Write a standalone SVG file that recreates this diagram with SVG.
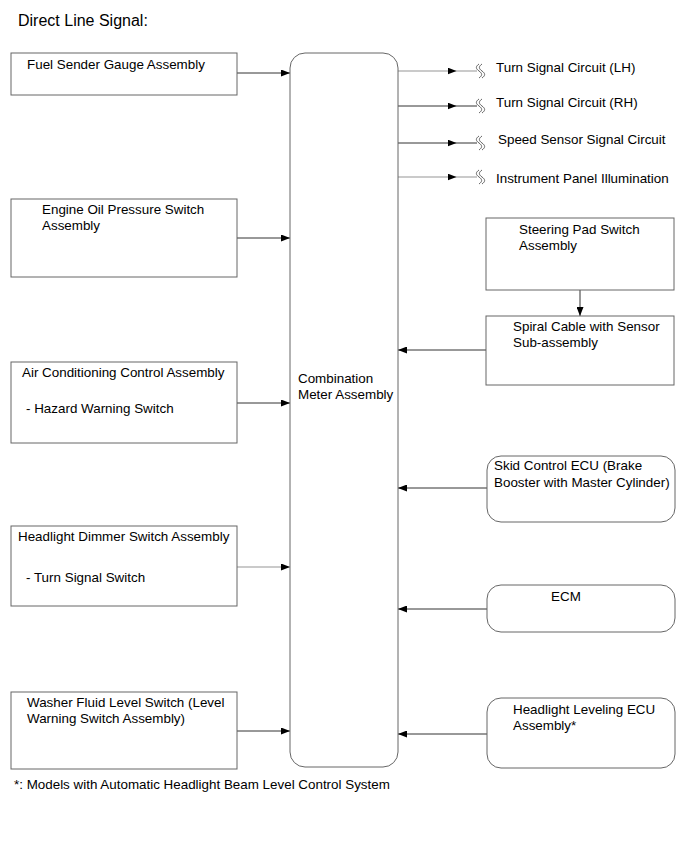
<svg xmlns="http://www.w3.org/2000/svg" width="690" height="853" viewBox="0 0 690 853">
<style>
  .box { fill: #ffffff; stroke: #666666; stroke-width: 1; }
  .t { font-family: "Liberation Sans", Arial, sans-serif; font-size: 13.4px; fill: #000000; }
  .title { font-family: "Liberation Sans", Arial, sans-serif; font-size: 16px; fill: #000000; }
  .ln { stroke: #333333; stroke-width: 1; fill: none; }
  .lg { stroke: #b8b8b8; stroke-width: 1.5; fill: none; }
  .brk { stroke: #555555; stroke-width: 0.9; fill: none; }
</style>
<defs>
  <marker id="ah" markerUnits="userSpaceOnUse" markerWidth="9" markerHeight="7" refX="9" refY="3.5" orient="auto">
    <path d="M0,0 L9,3.5 L0,7 z" fill="#000000"/>
  </marker>
  <marker id="am" markerUnits="userSpaceOnUse" markerWidth="9" markerHeight="7" refX="4.5" refY="3.5" orient="auto">
    <path d="M0,0 L9,3.5 L0,7 z" fill="#000000"/>
  </marker>
  <g id="brk">
    <path d="M2,-7 c-3.5,2.5 -3.5,4.5 0,7 c3.5,2.5 3.5,4.5 0,7"/>
    <path d="M5,-7 c-3.5,2.5 -3.5,4.5 0,7 c3.5,2.5 3.5,4.5 0,7"/>
  </g>
</defs>
<rect width="690" height="853" fill="#ffffff"/>
<text class="title" x="18" y="26">Direct Line Signal:</text>

<g id="connectors">
  <path class="ln" d="M237,73 H290" marker-end="url(#ah)"/>
  <path class="ln" d="M237,238 H290" marker-end="url(#ah)"/>
  <path class="ln" d="M237,403 H290" marker-end="url(#ah)"/>
  <path class="lg" d="M237,567 H290" marker-end="url(#ah)"/>
  <path class="ln" d="M237,731 H290" marker-end="url(#ah)"/>

  <path class="lg" d="M398,71 H452 H477" marker-mid="url(#am)"/>
  <path class="ln" d="M398,106 H452 H477" marker-mid="url(#am)"/>
  <path class="ln" d="M398,143 H452 H477" marker-mid="url(#am)"/>
  <path class="lg" d="M398,177 H452 H477" marker-mid="url(#am)"/>
  <use href="#brk" class="brk" x="477" y="71"/>
  <use href="#brk" class="brk" x="477" y="106"/>
  <use href="#brk" class="brk" x="477" y="143"/>
  <use href="#brk" class="brk" x="477" y="177"/>

  <path class="ln" d="M580,290 V316" marker-end="url(#ah)"/>
  <path class="ln" d="M486,350 H398" marker-end="url(#ah)"/>
  <path class="ln" d="M487,488 H398" marker-end="url(#ah)"/>
  <path class="ln" d="M487,609 H398" marker-end="url(#ah)"/>
  <path class="ln" d="M487,734 H398" marker-end="url(#ah)"/>
</g>

<g id="combination-meter">
  <rect class="box" x="290" y="53" width="108" height="714" rx="15" ry="15"/>
  <text class="t" x="298" y="383">Combination</text>
  <text class="t" x="298" y="399">Meter Assembly</text>
</g>

<g id="fuel-sender">
  <rect class="box" x="11" y="53" width="226" height="42"/>
  <text class="t" x="27" y="69">Fuel Sender Gauge Assembly</text>
</g>

<g id="engine-oil">
  <rect class="box" x="11" y="199" width="226" height="78"/>
  <text class="t" x="42" y="214">Engine Oil Pressure Switch</text>
  <text class="t" x="42" y="230">Assembly</text>
</g>

<g id="air-conditioning">
  <rect class="box" x="11" y="362" width="226" height="81"/>
  <text class="t" x="22" y="377">Air Conditioning Control Assembly</text>
  <text class="t" x="26" y="413">- Hazard Warning Switch</text>
</g>

<g id="headlight-dimmer">
  <rect class="box" x="11" y="526" width="226" height="80"/>
  <text class="t" x="18" y="541">Headlight Dimmer Switch Assembly</text>
  <text class="t" x="26" y="582">- Turn Signal Switch</text>
</g>

<g id="washer-fluid">
  <rect class="box" x="11" y="692" width="226" height="77"/>
  <text class="t" x="27" y="707">Washer Fluid Level Switch (Level</text>
  <text class="t" x="27" y="723">Warning Switch Assembly)</text>
</g>

<g id="turn-lh"><text class="t" x="496" y="72">Turn Signal Circuit (LH)</text></g>
<g id="turn-rh"><text class="t" x="496" y="107">Turn Signal Circuit (RH)</text></g>
<g id="speed-sensor"><text class="t" x="498" y="144">Speed Sensor Signal Circuit</text></g>
<g id="instrument-panel"><text class="t" x="496" y="183">Instrument Panel Illumination</text></g>

<g id="steering-pad">
  <rect class="box" x="486" y="218" width="188" height="72"/>
  <text class="t" x="519" y="234">Steering Pad Switch</text>
  <text class="t" x="519" y="250">Assembly</text>
</g>

<g id="spiral-cable">
  <rect class="box" x="486" y="316" width="188" height="69"/>
  <text class="t" x="513" y="331">Spiral Cable with Sensor</text>
  <text class="t" x="513" y="347">Sub-assembly</text>
</g>

<g id="skid-control">
  <rect class="box" x="487" y="456" width="188" height="66" rx="14" ry="14"/>
  <text class="t" x="494" y="470">Skid Control ECU (Brake</text>
  <text class="t" x="494" y="487">Booster with Master Cylinder)</text>
</g>

<g id="ecm">
  <rect class="box" x="487" y="585" width="188" height="47" rx="14" ry="14"/>
  <text class="t" x="566" y="601" text-anchor="middle">ECM</text>
</g>

<g id="headlight-leveling">
  <rect class="box" x="487" y="698" width="188" height="70" rx="14" ry="14"/>
  <text class="t" x="513" y="714">Headlight Leveling ECU</text>
  <text class="t" x="513" y="730">Assembly*</text>
</g>

<text class="t" x="14" y="789">*: Models with Automatic Headlight Beam Level Control System</text>
</svg>
